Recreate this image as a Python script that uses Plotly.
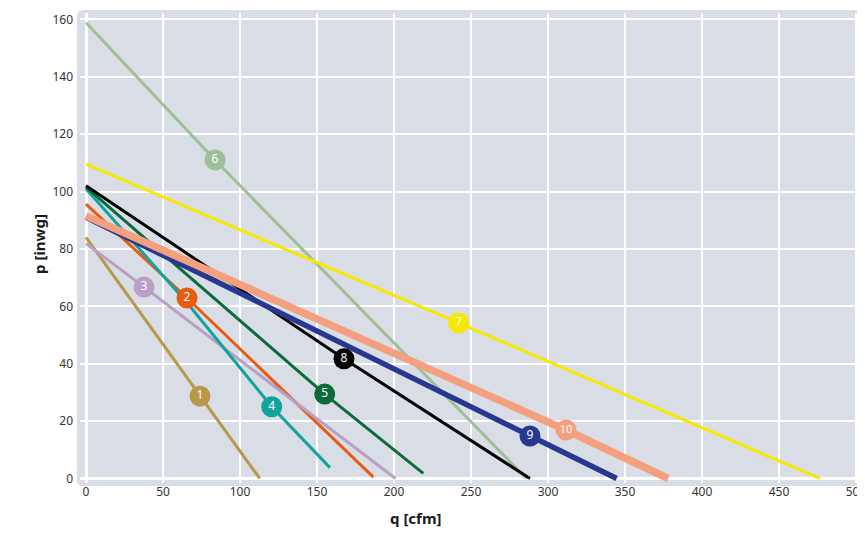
import plotly.graph_objects as go

# fan curves: q [cfm] vs p [inwg], middle point is where the number badge sits
labels = ["1", "2", "3", "4", "5", "6", "7", "8", "9", "10"]
q_pts = [
    [0, 74, 112.8],
    [0, 65.6, 186.6],
    [0, 37.7, 201],
    [0, 66, 120.6, 158.4],
    [0, 155, 219],
    [0, 83.8, 286],
    [0, 242, 476.6],
    [0, 167.5, 288.3],
    [0, 288.3, 344.6],
    [0, 311.7, 378],
]
p_pts = [
    [84, 28.7, 0],
    [95.6, 62.9, 0.5],
    [81.9, 66.7, 0],
    [101, 61, 25, 3.8],
    [101.5, 29.4, 1.8],
    [158.8, 111, 0],
    [109.5, 54.2, 0],
    [102, 41.7, 0],
    [91, 14.8, 0],
    [91.5, 16.9, 0],
]
badge_q = [74, 65.6, 37.7, 120.6, 155, 83.8, 242, 167.5, 288.3, 311.7]
badge_p = [28.7, 62.9, 66.7, 25, 29.4, 111, 54.2, 41.7, 14.8, 16.9]

colors = ["#b8994a", "#e85c12", "#b9a0c4", "#11a39c", "#0c6b3b",
          "#9ebf97", "#f8e700", "#000000", "#283891", "#f4a07f"]
widths = [3, 3, 3, 3, 3, 3, 3, 3, 5.5, 7.5]

BG = "#d9dde5"

fig = go.Figure()

for i in range(len(labels)):
    fig.add_trace(go.Scatter(
        x=q_pts[i], y=p_pts[i], mode="lines",
        line=dict(color=colors[i], width=widths[i]),
        hoverinfo="skip", showlegend=False,
    ))

# numbered badges on top of all lines
for i in range(len(labels)):
    fig.add_trace(go.Scatter(
        x=[badge_q[i]], y=[badge_p[i]], mode="markers+text",
        marker=dict(color=colors[i], size=21, line=dict(width=0)),
        text=[labels[i]], textposition="middle center",
        textfont=dict(color="white", size=11 if labels[i] == "10" else 12,
                      family="Noto Sans"),
        showlegend=False,
    ))

# rounded frame slightly larger than the plot area
W, H = 780.0, 470.0
ex, ey = 3 / W, 3 / H
rx, ry = 6 / W, 6 / H
x0, x1, y0, y1 = -ex, 1 + ex, -ey, 1 + ey
path = (f"M {x0 + rx},{y0} L {x1 - rx},{y0} Q {x1},{y0} {x1},{y0 + ry} "
        f"L {x1},{y1 - ry} Q {x1},{y1} {x1 - rx},{y1} "
        f"L {x0 + rx},{y1} Q {x0},{y1} {x0},{y1 - ry} "
        f"L {x0},{y0 + ry} Q {x0},{y0} {x0 + rx},{y0} Z")
fig.add_shape(type="path", path=path, xref="paper", yref="paper",
              fillcolor=BG, line=dict(width=0), layer="below")

# page body has an 8px margin, so the figure is 8px smaller than the window
fig.update_layout(
    width=857, height=535,
    margin=dict(l=72, r=5, t=5, b=60, autoexpand=False),
    paper_bgcolor="white",
    plot_bgcolor=BG,
    font=dict(family="Noto Sans", size=12, color="#333333"),
    xaxis=dict(range=[-3.9, 502.6], tickmode="linear", dtick=50,
               showgrid=True, gridcolor="white", gridwidth=2,
               zeroline=True, zerolinecolor="white", zerolinewidth=3,
               showline=False, ticks="", automargin=False,
               ticklabeloverflow="allow"),
    yaxis=dict(range=[-1.57, 162.2], tickmode="linear", dtick=20,
               showgrid=True, gridcolor="white", gridwidth=2,
               zeroline=True, zerolinecolor="white", zerolinewidth=3,
               showline=False, ticks="", ticklabelstandoff=6, automargin=False,
               ticklabeloverflow="allow"),
    annotations=[
        dict(text="<b>q [cfm]</b>", x=0.4295, y=-0.1, xref="paper", yref="paper",
             showarrow=False, font=dict(size=15, color="#1a1a1a")),
        dict(text="<b>p [inwg]</b>", x=-0.068, y=0.5085, xref="paper", yref="paper",
             showarrow=False, textangle=-90, font=dict(size=15, color="#1a1a1a")),
    ],
)

fig.write_html("out.html")
